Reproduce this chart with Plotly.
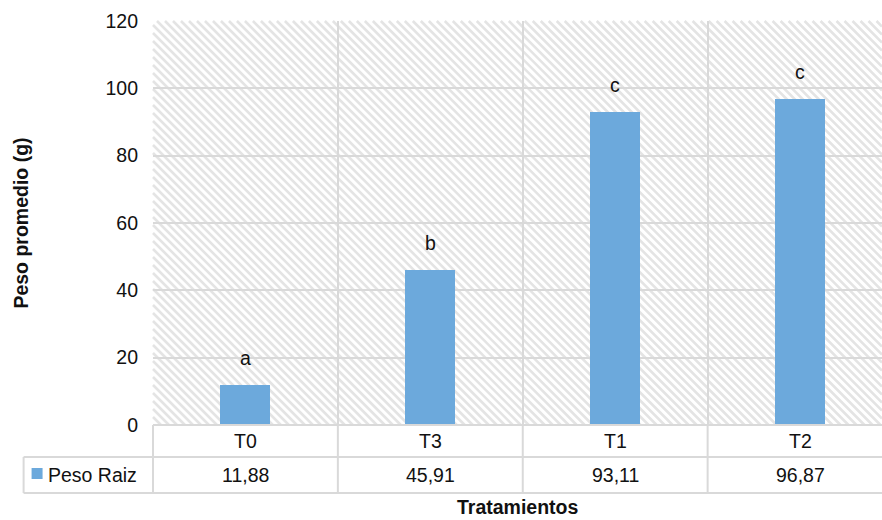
import plotly.graph_objects as go

# Data
categorias = ["T0", "T3", "T1", "T2"]
peso_raiz = [11.88, 45.91, 93.11, 96.87]
letras = ["a", "b", "c", "c"]
serie = "Peso Raiz"
y_ticks = [0, 20, 40, 60, 80, 100, 120]

# Layout geometry (pixels)
W, H = 882, 520
ML, MT = 152.5, 21
PLOT_BOTTOM = 425
ROW1_BOTTOM = 457
ROW2_BOTTOM = 493
LEGEND_LEFT = 23
CAT_W = 185.0
PW = W - ML
PH = PLOT_BOTTOM - MT

BAR_COLOR = "#6CA9DC"
GRID = "#D9D9D9"
FONT = "Liberation Sans, Arial, sans-serif"
TXT = "#111111"
FS = 19.5


def px(x_pix):
    return (x_pix - ML) / PW


def py(y_pix):
    return (PLOT_BOTTOM - y_pix) / PH


fig = go.Figure()
xs = list(range(len(categorias)))
fig.add_trace(go.Bar(
    x=xs, y=peso_raiz, width=50 / CAT_W, name=serie,
    marker=dict(color=BAR_COLOR, line=dict(width=0)),
    showlegend=False,
))

shapes = []

# Diagonal hatch fill of the plot area
step = 8
segs = []
c = -PH
while c <= PW:
    t0 = max(0.0, -c)
    t1 = min(PH, PW - c)
    if t0 < t1:
        x0, y0 = c + t0, t0
        x1, y1 = c + t1, t1
        segs.append(f"M {x0 / PW:.5f} {1 - y0 / PH:.5f} L {x1 / PW:.5f} {1 - y1 / PH:.5f}")
    c += step
shapes.append(dict(type="path", path=" ".join(segs), xref="paper", yref="paper",
                   line=dict(color="#E4E4E4", width=2.6), layer="below"))

line_style = dict(color=GRID, width=2)
# Data table: horizontal rules
shapes.append(dict(type="line", xref="paper", yref="paper", x0=0, x1=1,
                   y0=0, y1=0, line=line_style))
shapes.append(dict(type="line", xref="paper", yref="paper", x0=px(LEGEND_LEFT), x1=1,
                   y0=py(ROW1_BOTTOM), y1=py(ROW1_BOTTOM), line=line_style))
shapes.append(dict(type="line", xref="paper", yref="paper", x0=px(LEGEND_LEFT), x1=1,
                   y0=py(ROW2_BOTTOM), y1=py(ROW2_BOTTOM), line=line_style))
# Data table: vertical rules at category boundaries
for k in range(len(categorias)):
    xb = k * CAT_W / PW
    shapes.append(dict(type="line", xref="paper", yref="paper", x0=xb, x1=xb,
                       y0=0, y1=py(ROW2_BOTTOM), line=line_style))
shapes.append(dict(type="line", xref="paper", yref="paper", x0=px(LEGEND_LEFT), x1=px(LEGEND_LEFT),
                   y0=py(ROW1_BOTTOM), y1=py(ROW2_BOTTOM), line=line_style))
# Legend key
shapes.append(dict(type="rect", xref="paper", yref="paper", x0=px(31), x1=px(42),
                   y0=py(479), y1=py(468), fillcolor=BAR_COLOR, line=dict(width=0)))

annotations = []
row1_mid = (PLOT_BOTTOM + ROW1_BOTTOM) / 2
row2_mid = (ROW1_BOTTOM + ROW2_BOTTOM) / 2
font = dict(size=FS, color=TXT, family=FONT)
for i, (cat, val, let) in enumerate(zip(categorias, peso_raiz, letras)):
    annotations.append(dict(x=i, y=py(row1_mid), xref="x", yref="paper", text=cat,
                            xanchor="center", yanchor="middle", showarrow=False, font=font))
    annotations.append(dict(x=i, y=py(row2_mid), xref="x", yref="paper",
                            text=f"{val:.2f}".replace(".", ","),
                            xanchor="center", yanchor="middle", showarrow=False, font=font))
    annotations.append(dict(x=i, y=val, xref="x", yref="y", text=let,
                            xanchor="center", yanchor="middle",
                            yshift=27, showarrow=False, font=font))

annotations.append(dict(x=px(45), y=py(row2_mid), xref="paper", yref="paper", text=serie,
                        xanchor="left", yanchor="middle", showarrow=False, font=font))
annotations.append(dict(x=px(20), y=0.5, xref="paper", yref="paper",
                        text="<b>Peso promedio (g)</b>", textangle=-90,
                        xanchor="center", yanchor="middle", showarrow=False, font=font))
annotations.append(dict(x=0.5, y=py(507), xref="paper", yref="paper",
                        text="<b>Tratamientos</b>",
                        xanchor="center", yanchor="middle", showarrow=False, font=font))

fig.update_layout(
    width=W, height=H,
    margin=dict(l=ML, r=0, t=MT, b=H - PLOT_BOTTOM, pad=0),
    paper_bgcolor="white", plot_bgcolor="white",
    shapes=shapes, annotations=annotations,
    showlegend=False,
    xaxis=dict(range=[-0.5, -0.5 + PW / CAT_W], tickvals=[-0.5, 0.5, 1.5, 2.5],
               showticklabels=False, ticks="", showgrid=True, gridcolor=GRID, gridwidth=2,
               zeroline=False, showline=False, fixedrange=True),
    yaxis=dict(range=[0, 120], tickvals=y_ticks, ticks="", ticklabelstandoff=14,
               showgrid=True, gridcolor=GRID, gridwidth=2, zeroline=False, showline=False,
               tickfont=font, fixedrange=True),
    bargap=0,
)

fig.write_html("out.html")
